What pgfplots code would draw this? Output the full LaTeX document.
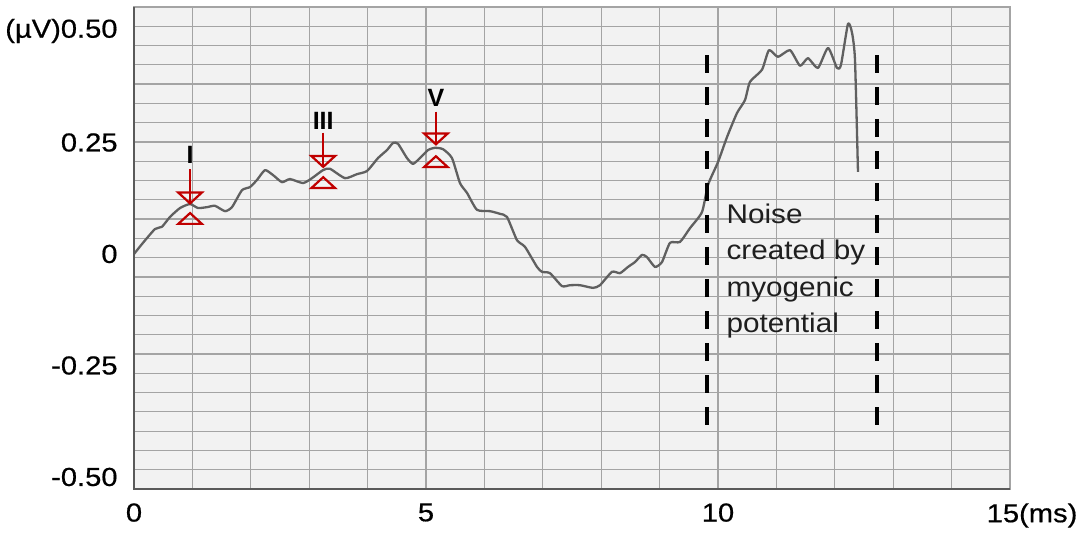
\documentclass[border=0pt]{standalone}
\usepackage{fontspec}
\setmainfont{Liberation Sans}
\newfontfamily\tickfont[FakeBold=0.6]{Liberation Sans}
\usepackage{pgfplots}
\pgfplotsset{compat=1.18}
\definecolor{bg}{HTML}{F2F2F2}
\definecolor{gridc}{HTML}{A4A4A4}
\definecolor{axc}{HTML}{5A5A5A}
\definecolor{trace}{HTML}{606060}
\definecolor{mred}{HTML}{C00000}
\pgfdeclareplotmark{tdown}{%
  \pgfpathmoveto{\pgfqpoint{-5.9pt}{2.7pt}}%
  \pgfpathlineto{\pgfqpoint{5.9pt}{2.7pt}}%
  \pgfpathlineto{\pgfqpoint{0pt}{-2.7pt}}%
  \pgfpathclose\pgfusepathqstroke}
\pgfdeclareplotmark{tup}{%
  \pgfpathmoveto{\pgfqpoint{-5.9pt}{-2.7pt}}%
  \pgfpathlineto{\pgfqpoint{5.9pt}{-2.7pt}}%
  \pgfpathlineto{\pgfqpoint{0pt}{2.7pt}}%
  \pgfpathclose\pgfusepathqstroke}
\begin{document}
\begin{tikzpicture}
\useasboundingbox (-67pt,-22pt) rectangle (475pt,244.5pt);
\begin{axis}[
  at={(0pt,0pt)}, anchor=south west,
  scale only axis, width=438pt, height=241pt,
  xmin=0, xmax=15, ymin=-0.5269, ymax=0.5538,
  axis background/.style={fill=bg},
  axis line style={draw=gridc, line width=0.6pt},
  xtick={0,5,10,15},
  xticklabels={0,5,10,\hspace*{-6.3pt}15\rlap{(ms)}},
  minor xtick={1,2,3,4,6,7,8,9,11,12,13,14},
  ytick={-0.5,-0.25,0,0.25,0.5},
  yticklabels={-0.50,-0.25,0,0.25,(µV)0.50},
  minor ytick={0.5106,0.4674,0.4241,0.3809,0.3377,0.2944,0.2512,0.2080,0.1648,0.1215,0.0783,0.0351,-0.0082,-0.0514,-0.0946,-0.1378,-0.1811,-0.2243,-0.2675,-0.3108,-0.3540,-0.3972,-0.4404,-0.4837},
  xmajorgrids, xminorgrids, yminorgrids,
  major grid style={draw=gridc, line width=0.6pt},
  minor grid style={draw=gridc, line width=0.6pt},
  major tick length=0pt, minor tick length=0pt,
  /pgf/number format/assume math mode=true,
  tick label style={font=\tickfont\fontsize{13}{15}\selectfont, xscale=1.12, inner sep=0pt},
  yticklabel shift=8pt,
  xticklabel shift=7pt,
  clip=false,
]
\addplot[trace, line width=1.15pt, line join=round, smooth, tension=0.35] coordinates {
(0,0) (0.154,0.025) (0.360,0.056) (0.479,0.061) (0.616,0.083) (0.788,0.103)
(0.959,0.112) (1.096,0.103) (1.250,0.105) (1.387,0.108) (1.558,0.096) (1.678,0.105)
(1.849,0.143) (1.986,0.150) (2.106,0.166) (2.243,0.188) (2.380,0.177) (2.534,0.161)
(2.671,0.168) (2.894,0.159) (3.048,0.170) (3.236,0.188) (3.356,0.191) (3.613,0.170)
(3.818,0.179) (3.990,0.186) (4.178,0.215) (4.332,0.233) (4.435,0.249) (4.521,0.247)
(4.675,0.215) (4.777,0.202) (4.897,0.215) (5.034,0.233) (5.154,0.238) (5.291,0.235)
(5.445,0.215) (5.582,0.159) (5.702,0.137) (5.873,0.099) (6.096,0.096) (6.267,0.090)
(6.387,0.083) (6.558,0.031) (6.695,0.016) (6.901,-0.029) (6.986,-0.040) (7.123,-0.043)
(7.329,-0.072) (7.466,-0.070) (7.637,-0.070) (7.860,-0.076) (7.979,-0.070) (8.185,-0.040)
(8.322,-0.043) (8.459,-0.029) (8.579,-0.018) (8.699,-0.002) (8.784,-0.007) (8.921,-0.029)
(9.041,-0.018) (9.178,0.025) (9.349,0.027) (9.521,0.058) (9.726,0.094) (9.829,0.155)
(10.0,0.206) (10.154,0.262) (10.325,0.316) (10.462,0.345) (10.548,0.386) (10.753,0.413)
(10.873,0.457) (11.027,0.442) (11.233,0.457) (11.404,0.422) (11.541,0.439) (11.712,0.417)
(11.884,0.462) (12.038,0.417) (12.106,0.424) (12.226,0.516) (12.295,0.496) (12.346,0.435)
(12.397,0.184)
};
% marker arrows
\draw[mred, line width=1pt] (axis cs:0.96,0.190) -- (axis cs:0.96,0.114);
\draw[mred, line width=1pt] (axis cs:3.24,0.272) -- (axis cs:3.24,0.196);
\draw[mred, line width=1pt] (axis cs:5.17,0.319) -- (axis cs:5.17,0.246);
\addplot[mred, only marks, mark=tdown, mark options={line width=1.1pt}] coordinates {(0.96,0.1256) (3.24,0.2074) (5.17,0.258)};
\addplot[mred, only marks, mark=tup, mark options={line width=1.1pt}] coordinates {(0.96,0.0796) (3.24,0.160) (5.17,0.207)};
\node[font=\bfseries\fontsize{12.5}{13}\selectfont] at (axis cs:0.96,0.222) {I};
\node[font=\bfseries\fontsize{12.5}{13}\selectfont] at (axis cs:3.24,0.298) {III};
\node[font=\bfseries\fontsize{12.5}{13}\selectfont] at (axis cs:5.17,0.349) {V};
% dashed lines
\draw[black, line width=2.2pt, dash pattern=on 8.75pt off 7.25pt] (axis cs:9.81,0.446) -- (axis cs:9.81,-0.410);
\draw[black, line width=2.2pt, dash pattern=on 8.75pt off 7.25pt] (axis cs:12.72,0.446) -- (axis cs:12.72,-0.410);
\node[anchor=north west, inner sep=0pt, align=left, xscale=1.1, text=black!88,
  font=\fontsize{13.5}{18.3}\selectfont] at (axis cs:10.14,0.114)
  {Noise\\created by\\myogenic\\potential};
\draw[axc, line width=1pt] (rel axis cs:0,1) -- (rel axis cs:0,0) -- (rel axis cs:1,0);
\end{axis}
\end{tikzpicture}
\end{document}
